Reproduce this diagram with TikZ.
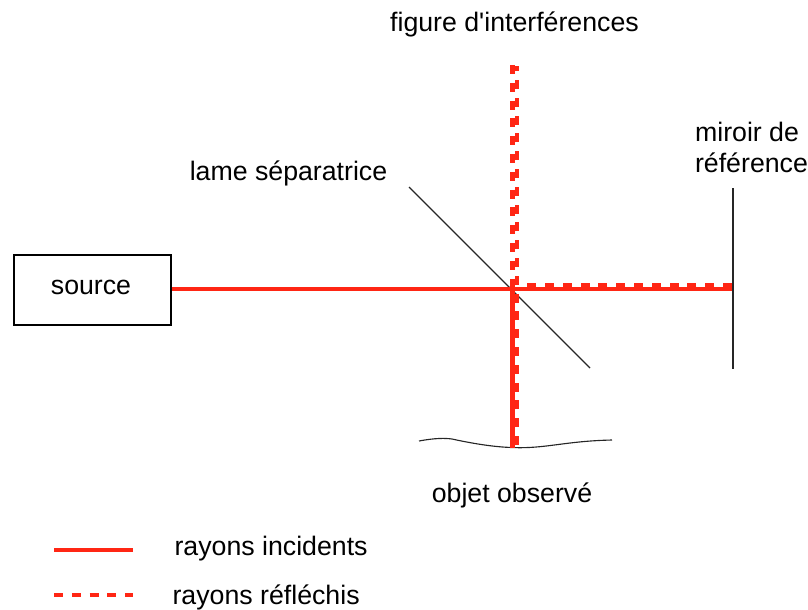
\documentclass[tikz,border=0pt]{standalone}
\usepackage{fontspec}
\setmainfont[Ligatures=TeXOff]{Liberation Sans}
\definecolor{rayred}{RGB}{255,38,20}
\tikzset{
	solidray/.style={draw=rayred, line width=1.6pt},
	dashray/.style={draw=rayred, line width=1.6pt, dash pattern=on 3.2pt off 3.13pt},
	thinline/.style={draw=black!85, line width=0.4pt},
	label/.style={font=\fontsize{9.5pt}{11pt}\selectfont, black, inner sep=0pt},
}
\begin{document}
\begin{tikzpicture}[x=0.0125cm, y=-0.0125cm]
	\useasboundingbox (0,0) rectangle (808,609);

	% Source box and fixed points of the beams
	\node[draw, line width=0.38pt, minimum width=157*0.0125cm, minimum height=70*0.0125cm, inner sep=0pt, label] (source) at (92.5,290) {};
	\node[label] (sourcetext) at (91,287.5) {source};
	\coordinate (split) at (512.5,289);
	\coordinate (mirrorhit) at (732,289);
	\coordinate (objecthit) at (512.5,448);

	% Optical elements
	\coordinate (lameA) at (409,187);
	\coordinate (lameB) at (590,368);
	\draw[thinline] (lameA) -- (lameB);
	\coordinate (mirrorA) at (733,188);
	\coordinate (mirrorB) at (733,369);
	\draw[thinline] (mirrorA) -- (mirrorB);
	\draw[thinline] (419,441) .. controls (435,438) and (445,438) .. (452,439)
		.. controls (475,444) and (495,447) .. (512,447.5)
		.. controls (545,449) and (565,441) .. (612,440);

	% Incident rays
	\draw[solidray] (source.east |- split) -- (mirrorhit);
	\draw[solidray] (split) -- (objecthit);

	% Reflected rays
	\coordinate (topleft) at (512.5,65);
	\coordinate (topright) at (517,445);
	\coordinate (endright) at (517,66);
	\coordinate (dashmirror) at (732,285);
	\coordinate (dashstart) at (527,285);
	\draw[dashray] (topleft) -- (split);
	\draw[dashray] (topright) -- (endright);
	\draw[dashray] (dashmirror) -- (dashstart);

	% Labels
	\node[label] (figure) at (514.5,24) {figure d'interférences};
	\node[label] (lame) at (288.5,173) {lame séparatrice};
	\node[label, align=left, anchor=north west] (mirror) at (694.5,122) {miroir de\\référence};
	\node[label] (object) at (512,495.5) {objet observé};

	% Legend
	\coordinate (legendA) at (54,550);
	\coordinate (legendB) at (132.5,550);
	\coordinate (legendC) at (54,595);
	\coordinate (legendD) at (133,595);
	\draw[solidray] (legendA) -- (legendB);
	\draw[dashray] (legendC) -- (legendD);
	\node[label, anchor=west] (incident) at (174,548.5) {rayons incidents};
	\node[label, anchor=west] (reflected) at (172,597) {rayons réfléchis};
\end{tikzpicture}
\end{document}
